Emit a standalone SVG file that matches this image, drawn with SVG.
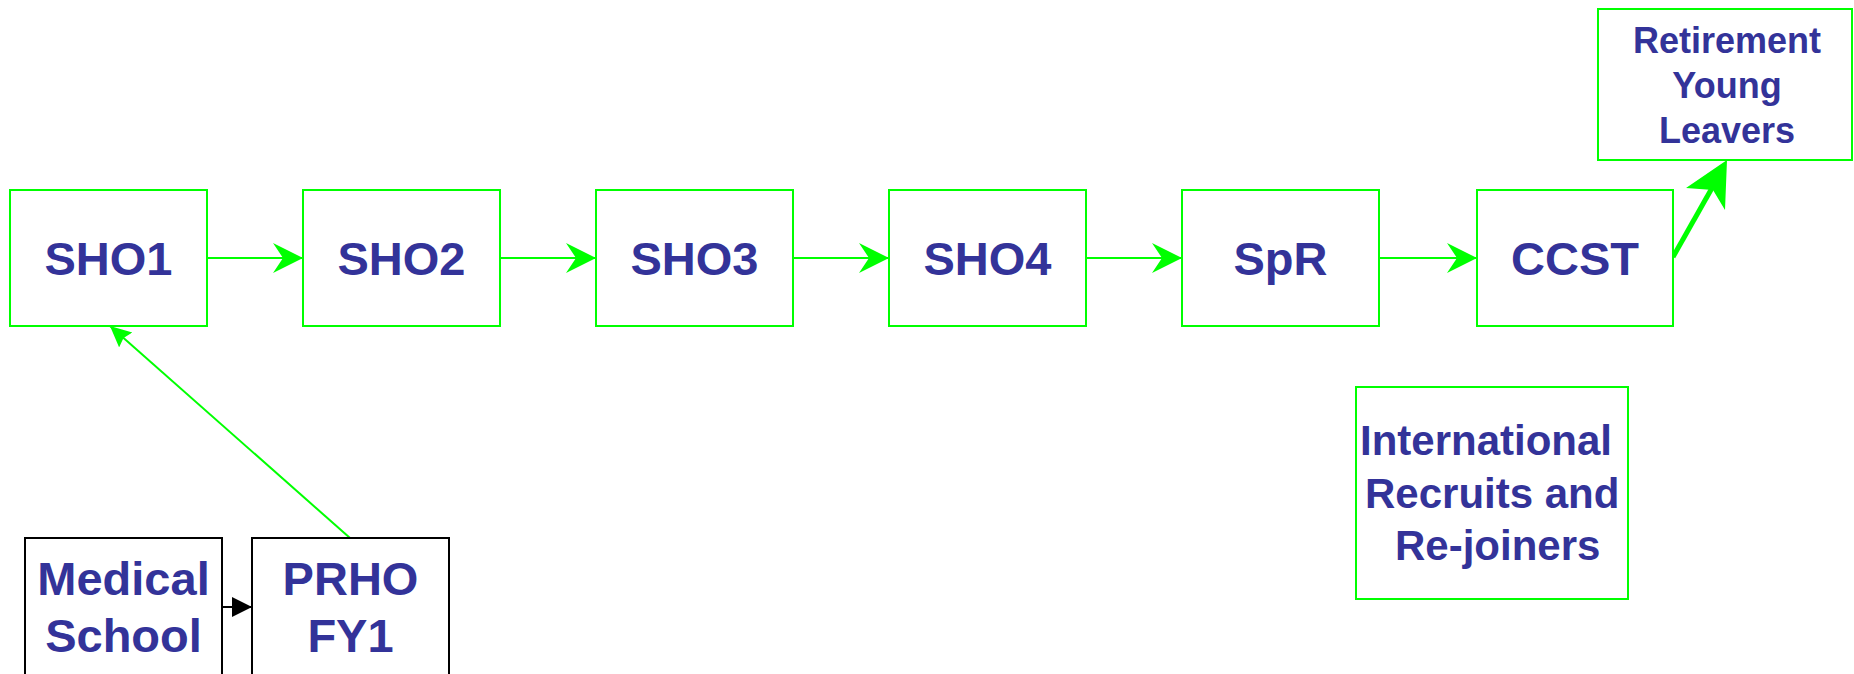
<svg xmlns="http://www.w3.org/2000/svg" width="1854" height="674" viewBox="0 0 1854 674">
<style>
.g{fill:#fff;stroke:#00ff00;stroke-width:2}
.k{fill:#fff;stroke:#000;stroke-width:2}
.t{font-family:"Liberation Sans",Arial,sans-serif;font-weight:bold;fill:#333399}
.big{font-size:47px;text-anchor:middle}
.mid{font-size:36px;text-anchor:middle}
.intl{font-size:42px}
.gl{stroke:#00ff00;stroke-width:2;fill:none}
</style>
<defs>
<marker id="ga" markerUnits="userSpaceOnUse" markerWidth="30" markerHeight="30" refX="30" refY="15" orient="auto"><path d="M0,0 L30,15 L0,30 L10,15 Z" fill="#00ff00"/></marker>
<marker id="gs" markerUnits="userSpaceOnUse" markerWidth="22" markerHeight="22" refX="21" refY="10" orient="auto"><path d="M0,0 L21,10 L0,20 L3,10 Z" fill="#00ff00"/></marker>
<marker id="ka" markerUnits="userSpaceOnUse" markerWidth="22" markerHeight="22" refX="20" refY="10" orient="auto"><path d="M0,0 L20,10 L0,20 Z" fill="#000"/></marker>
</defs>
<g id="connectors">
<line class="gl" x1="207" y1="258" x2="303" y2="258" marker-end="url(#ga)"/>
<line class="gl" x1="500" y1="258" x2="596" y2="258" marker-end="url(#ga)"/>
<line class="gl" x1="793" y1="258" x2="889" y2="258" marker-end="url(#ga)"/>
<line class="gl" x1="1086" y1="258" x2="1182" y2="258" marker-end="url(#ga)"/>
<line class="gl" x1="1379" y1="258" x2="1477" y2="258" marker-end="url(#ga)"/>
<line class="gl" x1="350" y1="538" x2="110" y2="326" marker-end="url(#gs)"/>
<line x1="222" y1="607" x2="252" y2="607" stroke="#000" stroke-width="2" marker-end="url(#ka)"/>
<line x1="1673" y1="257" x2="1712" y2="188" stroke="#00ff00" stroke-width="5"/>
<polygon points="1727,160 1725,210 1713,190 1686,188" fill="#00ff00"/>
</g>
<g id="sho1"><rect class="g" x="10" y="190" width="197" height="136"/><text class="t big" x="108.5" y="275">SHO1</text></g>
<g id="sho2"><rect class="g" x="303" y="190" width="197" height="136"/><text class="t big" x="401.5" y="275">SHO2</text></g>
<g id="sho3"><rect class="g" x="596" y="190" width="197" height="136"/><text class="t big" x="694.5" y="275">SHO3</text></g>
<g id="sho4"><rect class="g" x="889" y="190" width="197" height="136"/><text class="t big" x="987.5" y="275">SHO4</text></g>
<g id="spr"><rect class="g" x="1182" y="190" width="197" height="136"/><text class="t big" x="1280.5" y="275">SpR</text></g>
<g id="ccst"><rect class="g" x="1477" y="190" width="196" height="136"/><text class="t big" x="1575" y="275">CCST</text></g>
<g id="retirement"><rect class="g" x="1598" y="9" width="254" height="151"/>
<text class="t mid" x="1727" y="53">Retirement</text>
<text class="t mid" x="1727" y="98">Young</text>
<text class="t mid" x="1727" y="143">Leavers</text></g>
<g id="international"><rect class="g" x="1356" y="387" width="272" height="212"/>
<text class="t intl" x="1360" y="455">International</text>
<text class="t intl" x="1365" y="508">Recruits and</text>
<text class="t intl" x="1395" y="560">Re-joiners</text></g>
<g id="medical"><rect class="k" x="25" y="538" width="197" height="150"/>
<text class="t big" x="123.5" y="595">Medical</text>
<text class="t big" x="123.5" y="652">School</text></g>
<g id="prho"><rect class="k" x="252" y="538" width="197" height="150"/>
<text class="t big" x="350.5" y="595">PRHO</text>
<text class="t big" x="350.5" y="652">FY1</text></g>
</svg>
